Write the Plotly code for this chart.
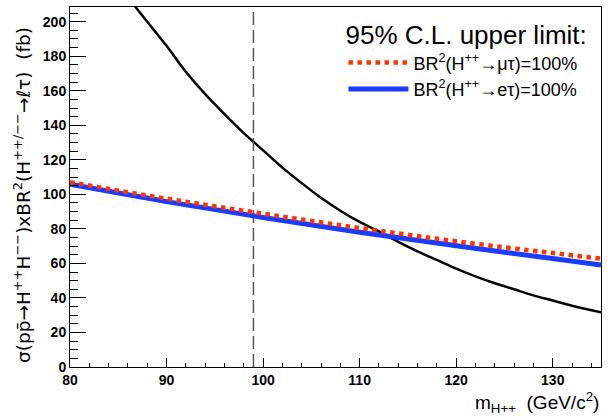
import plotly.graph_objects as go

# --- data ---
limit_mass = [80, 90, 100, 110, 120, 130, 135]
limit_mutau = [107.0, 97.5, 88.8, 80.5, 72.8, 66.0, 62.8]
limit_etau = [105.8, 95.8, 86.6, 78.0, 70.2, 62.8, 59.1]

theory_mass = [86, 88, 90, 92, 94, 96, 98, 100, 102, 104, 106, 108, 110, 112,
               114, 116, 118, 120, 122, 124, 126, 128, 130, 132, 135]
theory_xsec = [214, 200, 186, 171, 158, 146.5, 135.5, 125.5, 115.5, 106.5, 98, 90.5, 84,
               78.5, 72.5, 67, 62, 57, 52.5, 48.5, 45, 41.5, 38.5, 35.5, 31.7]

mass_cut = 99.0
x_range = [80, 135]
y_range = [0, 208.5]

name_mutau = "BR<sup>2</sup>(H<sup>++</sup>→μτ)=100%"
name_etau = "BR<sup>2</sup>(H<sup>++</sup>→eτ)=100%"
legend_title = "95% C.L. upper limit:"
y_title = "σ(pp\u0304→H<sup>++</sup>H<sup>−−</sup>)xBR<sup>2</sup>(H<sup>++/−−</sup>→ℓτ)  (fb)"
x_title = "m<sub>H++</sub>  (GeV/c<sup>2</sup>)"

fig = go.Figure()

fig.add_trace(go.Scatter(
    x=theory_mass, y=theory_xsec, mode="lines",
    line=dict(color="black", width=2.5, shape="spline", smoothing=1.0),
    showlegend=False, hoverinfo="skip"))

fig.add_trace(go.Scatter(
    x=[mass_cut, mass_cut], y=y_range, mode="lines",
    line=dict(color="#555555", width=1.5, dash="13px,5px"),
    showlegend=False, hoverinfo="skip"))

fig.add_trace(go.Scatter(
    x=limit_mass, y=limit_etau, mode="lines", name=name_etau,
    line=dict(color="#1a3cff", width=5, shape="spline"), legendrank=2))

fig.add_trace(go.Scatter(
    x=limit_mass, y=limit_mutau, mode="lines", name=name_mutau,
    line=dict(color="#ff3300", width=4.5, dash="dot", shape="spline"), legendrank=1))

font_name = "Liberation Sans"

fig.update_layout(
    width=608, height=420,
    margin=dict(l=70, r=7, t=7, b=53),
    paper_bgcolor="white", plot_bgcolor="white",
    font=dict(family=font_name, color="black"),
    showlegend=True,
    legend=dict(
        x=0.515, y=0.99, xanchor="left", yanchor="top",
        bgcolor="rgba(0,0,0,0)",
        title=dict(text=legend_title, font=dict(size=26, family=font_name)),
        font=dict(size=18, family=font_name),
        itemwidth=60, tracegroupgap=0,
    ),
    xaxis=dict(
        range=x_range, showgrid=False, zeroline=False,
        showline=True, linecolor="black", linewidth=1, mirror=True,
        ticks="inside", ticklen=9, tickcolor="black", dtick=10, tick0=80,
        tickfont=dict(size=14, family=font_name, weight="bold"),
        minor=dict(ticks="inside", ticklen=4.5, dtick=2, tickcolor="black", showgrid=False),
    ),
    yaxis=dict(
        range=y_range, showgrid=False, zeroline=False,
        showline=True, linecolor="black", linewidth=1, mirror=True,
        ticks="inside", ticklen=16, tickcolor="black", dtick=20, tick0=0,
        tickfont=dict(size=14, family=font_name, weight="bold"),
        minor=dict(ticks="inside", ticklen=8, dtick=5, tickcolor="black", showgrid=False),
    ),
    annotations=[
        dict(text=y_title, xref="paper", yref="paper", x=0, y=0.5,
             xshift=-48, yshift=-8, xanchor="center", yanchor="middle",
             textangle=-90, showarrow=False, font=dict(size=18.5, family="DejaVu Sans")),
        dict(text=x_title, xref="paper", yref="paper", x=1, y=0,
             xanchor="right", yanchor="middle", yshift=-35, showarrow=False,
             font=dict(size=19, family=font_name)),
    ],
)

fig.write_html("out.html", config={"displayModeBar": False},
               post_script="document.body.style.margin='0px';document.body.style.padding='0px';")
